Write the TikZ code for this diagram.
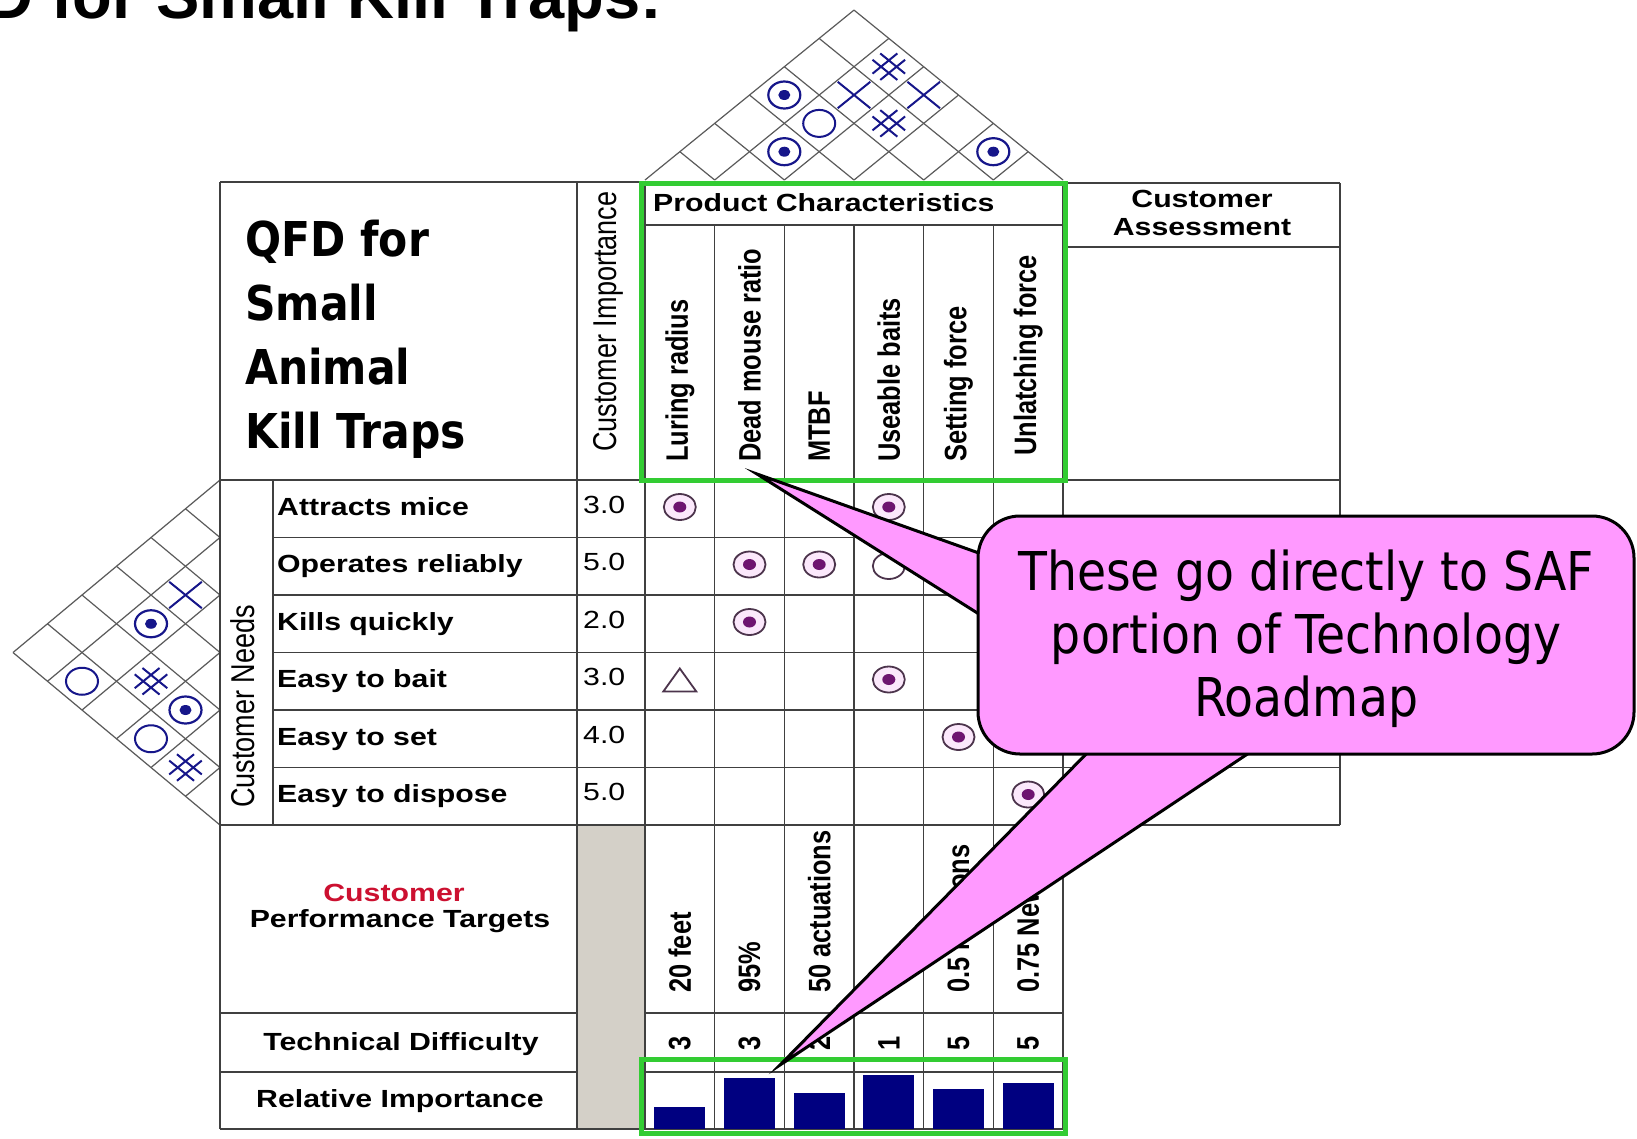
\documentclass[tikz,border=0pt]{standalone}
\usepackage{fontspec}
\setmainfont{Liberation Sans}
% table lettering: the chart is stretched sideways, so the glyphs are too
\newfontfamily\wideface[FakeStretch=1.22]{Liberation Sans}
\newfontfamily\tallface[FakeStretch=0.82]{Liberation Sans}
\newfontfamily\noteface[FakeStretch=0.885]{DejaVu Sans}

\definecolor{rule}{HTML}{404040}
\definecolor{roofline}{HTML}{5A5A5A}
\definecolor{navy}{HTML}{16168A}
\definecolor{plum}{HTML}{6E1470}
\definecolor{plumring}{HTML}{4C344C}
\definecolor{plumhalo}{HTML}{FBE8FB}
\definecolor{barblue}{HTML}{000080}
\definecolor{hilite}{HTML}{33CC33}
\definecolor{notepink}{HTML}{FF99FF}
\definecolor{redlabel}{HTML}{CC1030}
\definecolor{panelgray}{HTML}{D4D0C8}

\tikzset{
  rulestyle/.style={draw=rule, line width=1.5pt},
  diag/.style={draw=roofline, line width=1.2pt},
  hbold/.style={inner sep=0pt, text=black, font=\wideface\bfseries\fontsize{24.8}{28}\selectfont},
  hplain/.style={inner sep=0pt, text=black, font=\wideface\fontsize{24.8}{28}\selectfont},
  vbold/.style={inner sep=0pt, rotate=90, text=black, font=\tallface\bfseries\fontsize{31}{34}\selectfont},
  vplain/.style={inner sep=0pt, rotate=90, text=black, font=\tallface\fontsize{33}{36}\selectfont},
  hilitebox/.style={draw=hilite, line width=5pt},
  notestyle/.style={draw=black, fill=notepink, line width=3pt, line join=miter},
  % correlation marks (roof and side wall)
  strongpos/.pic={
    \draw[navy, line width=2.2pt] (0,0) ellipse [x radius=16pt, y radius=13.5pt];
    \fill[navy] (0,0) ellipse [x radius=6pt, y radius=5pt];
  },
  weakpos/.pic={
    \draw[navy, line width=2pt] (0,0) ellipse [x radius=16pt, y radius=13.5pt];
  },
  negmark/.pic={
    \draw[navy, line width=2pt] (-16.3pt,-13.2pt) -- (16.3pt,13.2pt)
                                (-16.3pt,13.2pt) -- (16.3pt,-13.2pt);
  },
  strongneg/.pic={
    \begin{scope}[x={(0.776pt,0.631pt)}, y={(0.776pt,-0.631pt)}]
      \draw[navy, line width=2pt]
        (-16,-5) -- (16,-5) (-16,5) -- (16,5)
        (-5,-16) -- (-5,16) (5,-16) -- (5,16);
    \end{scope}
  },
  % relationship marks (matrix)
  plumstrong/.pic={
    \filldraw[fill=plumhalo, draw=plumring, line width=1.8pt] (0,0) ellipse [x radius=16pt, y radius=13pt];
    \fill[plum] (0,0) ellipse [x radius=6.5pt, y radius=5.5pt];
  },
  plummedium/.pic={
    \draw[plumring, line width=1.8pt] (0,0) ellipse [x radius=16pt, y radius=13pt];
  },
  plumweak/.pic={
    \draw[plumring, line width=1.8pt, line join=miter] (-16.5pt,-11.5pt) -- (16.5pt,-11.5pt) -- (0pt,11.5pt) -- cycle;
  }
}

\begin{document}
\begin{tikzpicture}[x=1pt, y=-1pt]
\useasboundingbox (0,0) rectangle (1637,1138);
\fill[white] (0,0) rectangle (1637,1138);

% slide heading, cut by the top edge
\begin{scope}
  \clip (0,0) rectangle (1637,1138);
  \node (heading) [anchor=base east, inner sep=0pt, font=\bfseries\fontsize{65}{70}\selectfont] at (662,18) {QFD for Small Kill Traps:};
\end{scope}

% ---------- roof: correlation triangle over the six characteristics ----------
\foreach \k in {0,...,6} {
  \pgfmathsetmacro{\rbx}{645+\k*69.667}
  \pgfmathsetmacro{\rrx}{(\rbx+1063)/2}
  \pgfmathsetmacro{\rry}{180-0.813*(1063-\rbx)/2}
  \pgfmathsetmacro{\rlx}{(645+\rbx)/2}
  \pgfmathsetmacro{\rly}{180-0.813*(\rbx-645)/2}
  \draw[diag] (\rbx,180) -- (\rrx,\rry) (\rbx,180) -- (\rlx,\rly);
}

% ---------- side wall: correlation triangle beside the needs ----------
\foreach \k in {0,...,6} {
  \pgfmathsetmacro{\way}{480+\k*57.5}
  \pgfmathsetmacro{\wdy}{(\way+825)/2}
  \pgfmathsetmacro{\wdx}{220-1.2*(825-\way)/2}
  \pgfmathsetmacro{\wuy}{(480+\way)/2}
  \pgfmathsetmacro{\wux}{220-1.2*(\way-480)/2}
  \draw[diag] (220,\way) -- (\wdx,\wdy) (220,\way) -- (\wux,\wuy);
}

% ---------- table body ----------
\fill[panelgray] (577,825) rectangle (645,1129);
\draw[rulestyle]
  (220,182) -- (645,182)
  (645,225) -- (1063,225)
  (1063,183) -- (1340,183)
  (1063,247) -- (1340,247)
  (220,480) -- (1340,480)
  (220,825) -- (1340,825)
  (220,1013) -- (577,1013) (645,1013) -- (1063,1013)
  (220,1072) -- (577,1072) (645,1072) -- (1063,1072)
  (220,1129) -- (1063,1129)
  (220,182) -- (220,1129)
  (273,480) -- (273,825)
  (577,182) -- (577,1129)
  (645,182) -- (645,1129)
  (1063,182) -- (1063,1129)
  (1340,183) -- (1340,825);
\foreach \y in {537.5,595,652.5,710,767.5}
  \draw[rulestyle] (273,\y) -- (1340,\y);
\foreach \x in {714.667,784.333,854,923.667,993.333}
  \draw[rulestyle] (\x,225) -- (\x,1129);

% ---------- headings ----------
\node (qfdname) [anchor=base west, inner sep=0pt, align=left, text=black,
  font=\noteface\bfseries\fontsize{48}{63.7}\selectfont] at (245,448)
  {QFD for\\Small\\Animal\\Kill Traps};
\node (impcol) [vplain, anchor=west] at (608,452) {Customer Importance};
\node (pchar) [hbold, anchor=base west] at (653,211) {Product Characteristics};
\node (assess) [hbold, anchor=base, align=center] at (1202,235) {Customer\\Assessment};
\node (needs) [vplain, anchor=west] at (243,808) {Customer Needs};

% characteristic names
\foreach \i/\t/\b in {1/Luring radius/462, 2/Dead mouse ratio/462, 3/MTBF/462,
                      4/Useable baits/462, 5/Setting force/462, 6/Unlatching force/456} {
  \pgfmathsetmacro{\cx}{645+(\i-0.5)*69.667}
  \node (char-\i) [vbold, anchor=west] at (\cx,\b) {\t};
}

% customer needs and their importance
\foreach \i/\t/\v in {1/Attracts mice/3.0, 2/Operates reliably/5.0, 3/Kills quickly/2.0,
                      4/Easy to bait/3.0, 5/Easy to set/4.0, 6/Easy to dispose/5.0} {
  \pgfmathsetmacro{\ry}{480+(\i-1)*57.5}
  \node (need-\i) [hbold, anchor=base west] at (277,\ry+35) {\t};
  \node (imp-\i) [hplain, anchor=base west] at (583,\ry+33) {\v};
}

% lower rooms
\node (custred) [hbold, anchor=base, text=redlabel] at (394,901) {Customer};
\node (perftgt) [hbold, anchor=base] at (400,927) {Performance Targets};
\node (techdiff) [hbold, anchor=base] at (401,1050) {Technical Difficulty};
\node (relimp) [hbold, anchor=base] at (400,1107) {Relative Importance};

\foreach \i/\t in {1/20 feet, 2/95\%, 3/50 actuations, 5/0.5 Newtons, 6/0.75 Newtons} {
  \pgfmathsetmacro{\cx}{645+(\i-0.5)*69.667}
  \node (target-\i) [vbold, anchor=west] at (\cx,993) {\t};
}
\foreach \i/\d in {1/3, 2/3, 3/2, 4/1, 5/5, 6/5} {
  \pgfmathsetmacro{\cx}{645+(\i-0.5)*69.667}
  \node (diff-\i) [vbold] at (\cx,1043) {\d};
}

% relative importance bars
\foreach \i/\top in {1/1107, 2/1078, 3/1093, 4/1075, 5/1089, 6/1083} {
  \pgfmathsetmacro{\cx}{645+(\i-0.5)*69.667}
  \fill[barblue] (\cx-25.5,1129) rectangle (\cx+25.5,\top);
}

% ---------- roof marks: pair (i,j) sits at ((ci+cj)/2, 180-0.813(cj-ci)/2) ----------
\pic at (784.3,95.0) {strongpos};
\pic at (784.3,151.7) {strongpos};
\pic at (819.2,123.4) {weakpos};
\pic at (854.0,95.0) {negmark};
\pic at (888.8,66.7) {strongneg};
\pic at (888.8,123.4) {strongneg};
\pic at (923.7,95.0) {negmark};
\pic at (993.3,151.7) {strongpos};

% ---------- wall marks ----------
\pic at (185.5,595.0) {negmark};
\pic at (151.0,623.75) {strongpos};
\pic at (82.0,681.25) {weakpos};
\pic at (151.0,681.25) {strongneg};
\pic at (185.5,710.0) {strongpos};
\pic at (151.0,738.75) {weakpos};
\pic at (185.5,767.5) {strongneg};

% ---------- relationship matrix ----------
\pic at (679.8,507) {plumstrong};
\pic at (888.8,507) {plumstrong};
\pic at (749.5,564.5) {plumstrong};
\pic at (819.2,564.5) {plumstrong};
\pic at (888.8,566) {plummedium};
\pic at (749.5,622) {plumstrong};
\pic at (679.8,680) {plumweak};
\pic at (888.8,679.5) {plumstrong};
\pic at (958.5,737) {plumstrong};
\pic at (1028.2,794.5) {plumstrong};

% ---------- highlighted blocks ----------
\draw[hilitebox] (641.5,183.5) rectangle (1065,480.5);
\draw[hilitebox] (641.5,1059.5) rectangle (1065,1133.5);

% ---------- callout ----------
\coordinate (tipA) at (757,474);
\coordinate (tipB) at (780,1065);
\filldraw[notestyle] (tipA) -- (990,557) -- (990,621) -- cycle;
\filldraw[notestyle] (tipB) -- (1095,745) -- (1261,745) -- cycle;
\node (note) [draw=black, fill=notepink, line width=3pt, rounded corners=42pt,
  minimum width=656pt, minimum height=238pt, inner sep=0pt] at (1306,635) {};
\node (notetext) [align=center, inner sep=0pt, text=black,
  font=\noteface\fontsize{53.5}{63}\selectfont] at (1306,639)
  {These go directly to SAF\\portion of Technology\\Roadmap};
\end{tikzpicture}
\end{document}
